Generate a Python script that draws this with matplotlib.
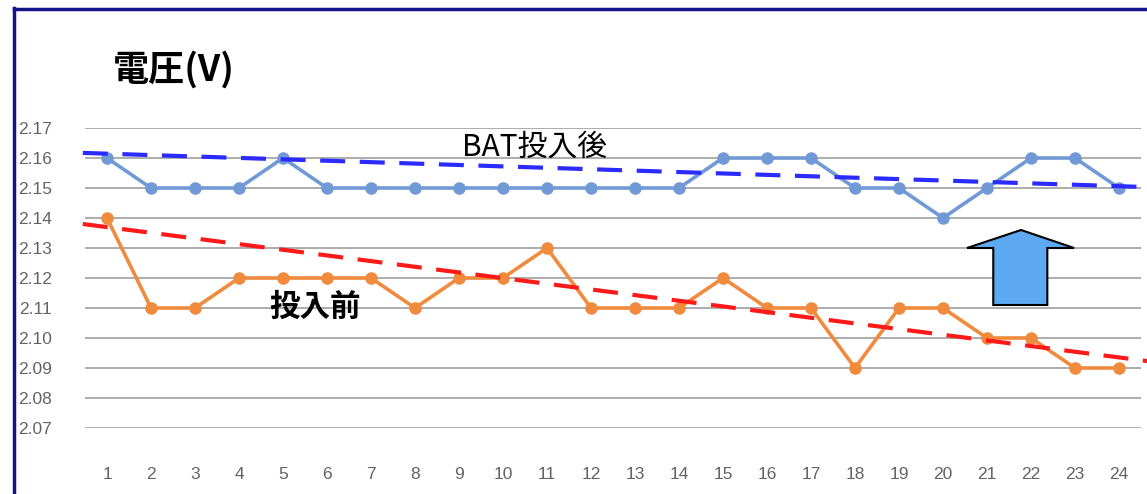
import matplotlib
matplotlib.use("Agg")
import matplotlib.pyplot as plt
from matplotlib.patches import Polygon
from matplotlib.lines import Line2D

# data
days = list(range(1, 25))
after = [2.16, 2.15, 2.15, 2.15, 2.16, 2.15, 2.15, 2.15, 2.15, 2.15, 2.15, 2.15,
         2.15, 2.15, 2.16, 2.16, 2.16, 2.15, 2.15, 2.14, 2.15, 2.16, 2.16, 2.15]
before = [2.14, 2.11, 2.11, 2.12, 2.12, 2.12, 2.12, 2.11, 2.12, 2.12, 2.13, 2.11,
          2.11, 2.11, 2.12, 2.11, 2.11, 2.09, 2.11, 2.11, 2.10, 2.10, 2.09, 2.09]
yticks = [2.07, 2.08, 2.09, 2.10, 2.11, 2.12, 2.13, 2.14, 2.15, 2.16, 2.17]

# hand drawn trend lines (end points)
trend_x = [0.45, 24.65]
after_trend = [2.1617, 2.1503]
before_trend = [2.1380, 2.0923]

plt.rcParams['font.family'] = ['Noto Sans CJK JP', 'DejaVu Sans']

fig = plt.figure(figsize=(11.47, 4.94), dpi=100)
ax = fig.add_axes([85 / 1147, 66 / 494, 1056 / 1147, 300 / 494])

for y in yticks:
    ax.axhline(y, color='#a6a6a6', lw=1.3, zorder=0)

ax.plot(days, after, color='#7099d6', lw=2.6, marker='o', ms=8, zorder=3)
ax.plot(days, before, color='#f08a3c', lw=2.6, marker='o', ms=8, zorder=3)

ax.plot(trend_x, after_trend, color='#2b2bff', lw=3, ls=(0, (6, 3.5)),
        clip_on=False, zorder=4)
ax.plot(trend_x, before_trend, color='#ff1a1a', lw=3, ls=(0, (6, 3.5)),
        clip_on=False, zorder=4)

ax.set_xlim(0.5, 24.5)
ax.set_ylim(2.07, 2.17)
ax.set_xticks(days)
ax.set_xticklabels([str(d) for d in days])
ax.set_yticks(yticks)
ax.set_yticklabels(['%.2f' % v for v in yticks])
ax.tick_params(length=0, labelsize=12.5, labelcolor='#636363')
ax.tick_params(axis='x', pad=28)
ax.tick_params(axis='y', pad=24)
for lab in ax.get_xticklabels() + ax.get_yticklabels():
    lab.set_family(['Liberation Sans', 'DejaVu Sans'])
for s in ax.spines.values():
    s.set_visible(False)

# block arrow
arrow = Polygon([(0.8601, 0.41), (0.8601, 0.60), (0.8352, 0.60), (0.8864, 0.66),
                 (0.9366, 0.60), (0.9113, 0.60), (0.9113, 0.41)],
                closed=True, transform=ax.transAxes, facecolor='#5eaaf2',
                edgecolor='black', lw=1.5, zorder=5)
ax.add_patch(arrow)

ax.text(9.07, 2.1635, 'BAT投入後', fontsize=21.5, color='black', ha='left', va='center')
ax.text(4.7, 2.1105, '投入前', fontsize=22, fontweight='bold', color='black',
        ha='left', va='center')

fig.text(113 / 1147, 1 - 70 / 494, '電圧(V)', fontsize=26, fontweight='bold',
         ha='left', va='center')

# frame
fig.add_artist(Line2D([14 / 1147, 14 / 1147], [0, 1 - 8 / 494], color='#14148a', lw=2.5))
fig.add_artist(Line2D([14 / 1147, 1], [1 - 9 / 494, 1 - 9 / 494], color='#14148a', lw=2.5))

fig.savefig('out.png', dpi=100)
